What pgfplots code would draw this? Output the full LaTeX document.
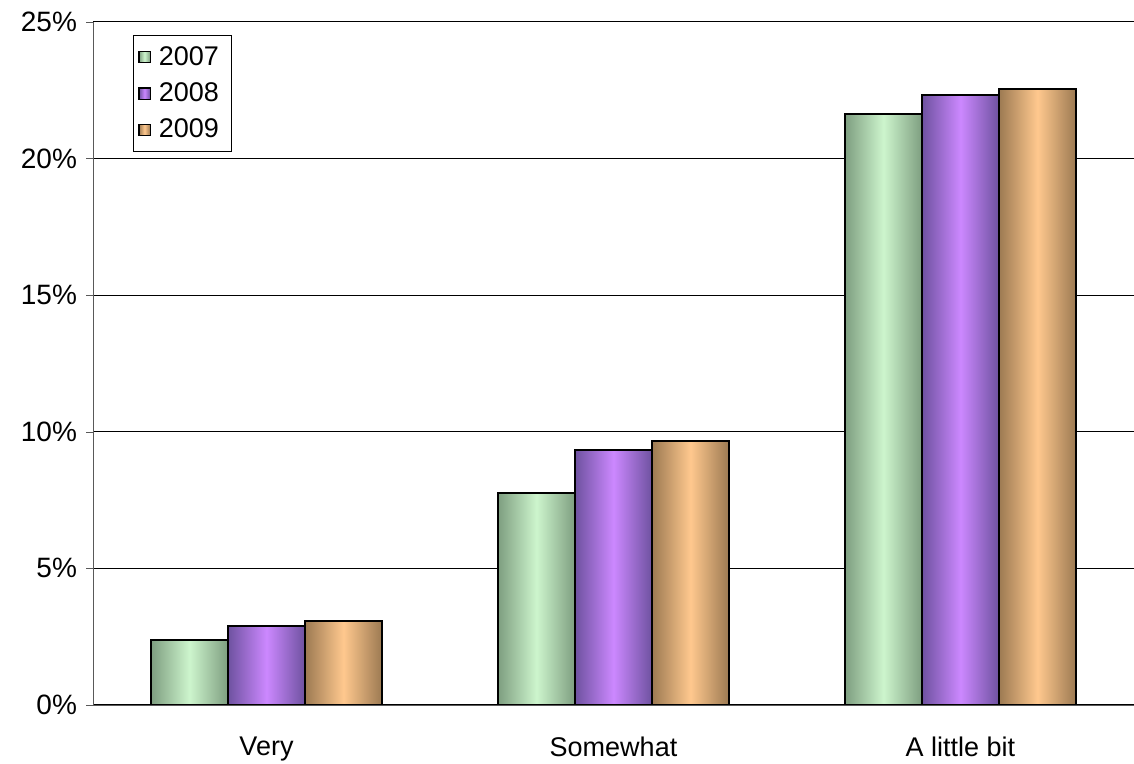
\documentclass[border=0pt]{standalone}
\usepackage{pgfplots}
\pgfplotsset{compat=1.18}
\usepackage{fontspec}
\setmainfont{Liberation Sans}
\definecolor{gEdge}{HTML}{7E9E80}
\definecolor{gMid}{HTML}{CDF5CD}
\definecolor{pEdge}{HTML}{6E52A0}
\definecolor{pMid}{HTML}{CC88FF}
\definecolor{oEdge}{HTML}{9C7A52}
\definecolor{oMid}{HTML}{FFC88E}
\pgfplotsset{
  g/.style={draw=black, line width=0.8pt, left color=gEdge, right color=gEdge, middle color=gMid, bar shift=-38.5pt, forget plot},
  p/.style={draw=black, line width=0.8pt, left color=pEdge, right color=pEdge, middle color=pMid, bar shift=0pt, forget plot},
  o/.style={draw=black, line width=0.8pt, left color=oEdge, right color=oEdge, middle color=oMid, bar shift=38.5pt, forget plot},
}
\begin{document}
\begin{tikzpicture}
\path[use as bounding box] (0,0) rectangle (567pt,382pt);
\begin{axis}[
  at={(46.5pt,29.5pt)}, anchor=south west,
  scale only axis, width=520.5pt, height=341.5pt,
  ybar, bar width=38.5pt,
  xmin=-0.5, xmax=2.5, ymin=0, ymax=25,
  xtick={0,1,2}, xticklabels={Very,Somewhat,A little bit},
  x tick style={draw=none},
  extra x ticks={0.5,1.5}, extra x tick labels={},
  extra x tick style={grid=none, tick style={draw=black}, major tick length=7pt},
  ytick={0,5,10,15,20,25},
  yticklabel={\pgfmathprintnumber{\tick}\%},
  /pgf/number format/assume math mode=true,
  ymajorgrids, major grid style={black, line width=0.5pt},
  axis x line*=bottom, axis y line*=left,
  axis line style={-, gray!70!black},
  tick align=outside, major tick length=3.5pt,
  y tick style={gray!70!black},
  yticklabel style={font=\fontsize{14pt}{16pt}\selectfont, xshift=-1pt},
  xticklabel style={font=\fontsize{13.5pt}{15pt}\selectfont, yshift=-9pt},
  legend style={at={(0.0384,0.981)}, anchor=north west, draw=black, fill=white,
    font=\fontsize{13.5pt}{15pt}\selectfont, row sep=3.2pt, inner xsep=2.5pt, inner ysep=3.5pt,
    cells={anchor=west}, nodes={inner xsep=4pt}},
  legend image code/.code={\draw[#1, line width=0.6pt] (0pt,-2.8pt) rectangle (5.6pt,2.8pt);},
]
\addplot[g] coordinates {(0,2.38)};
\addplot[g] coordinates {(1,7.76)};
\addplot[g] coordinates {(2,21.63)};
\addplot[p] coordinates {(0,2.89)};
\addplot[p] coordinates {(1,9.33)};
\addplot[p] coordinates {(2,22.33)};
\addplot[o] coordinates {(0,3.07)};
\addplot[o] coordinates {(1,9.66)};
\addplot[o] coordinates {(2,22.55)};
\addlegendimage{draw=black, left color=gEdge, right color=gEdge, middle color=gMid}
\addlegendentry{2007}
\addlegendimage{draw=black, left color=pEdge, right color=pEdge, middle color=pMid}
\addlegendentry{2008}
\addlegendimage{draw=black, left color=oEdge, right color=oEdge, middle color=oMid}
\addlegendentry{2009}
\end{axis}
\end{tikzpicture}
\end{document}
